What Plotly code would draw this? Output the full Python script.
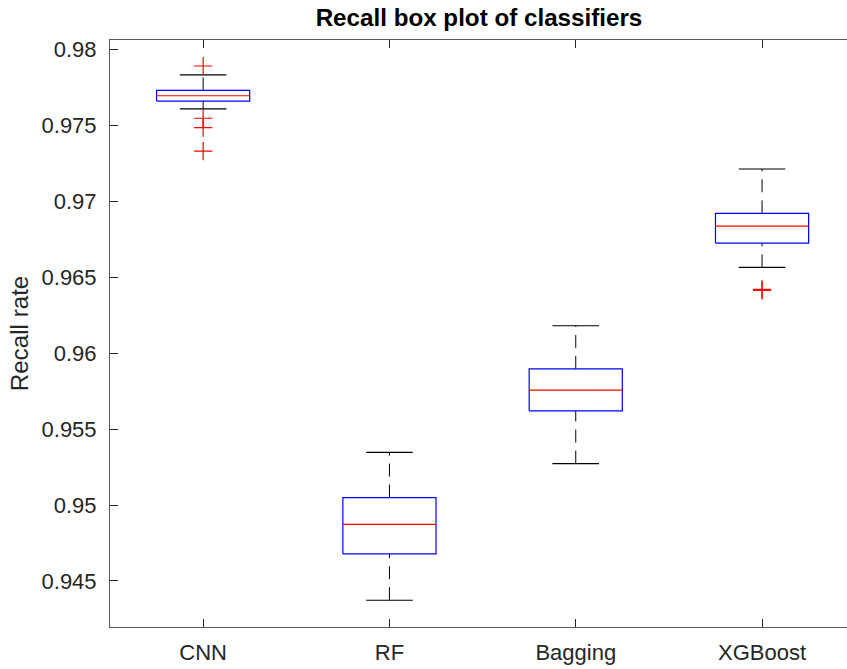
import plotly.graph_objects as go

# ---- data ----
categories = ["CNN", "RF", "Bagging", "XGBoost"]
q1 = [0.97659, 0.94678, 0.95620, 0.96724]
median = [0.97694, 0.94872, 0.95756, 0.96836]
q3 = [0.97730, 0.95049, 0.95896, 0.96920]
lower_whisker = [0.97607, 0.94373, 0.95273, 0.96564]
upper_whisker = [0.97831, 0.95346, 0.96180, 0.97212]
outliers = [
    [0.97890, 0.97546, 0.97484, 0.97330],
    [],
    [],
    [0.96419, 0.96412],
]
y_ticks = [0.945, 0.95, 0.955, 0.96, 0.965, 0.97, 0.975, 0.98]
y_tick_labels = ["0.945", "0.95", "0.955", "0.96", "0.965", "0.97", "0.975", "0.98"]

BOX_HALF = 0.25
CAP_HALF = 0.125
FONT = "Liberation Sans, Arial, Helvetica, sans-serif"
AXCOL = "#262626"
LINECOL = "#5a5a5a"

positions = list(range(1, len(categories) + 1))

bx, by, mx, my, wx, wy, cx, cy, ox, oy = [], [], [], [], [], [], [], [], [], []
for p, a, m, b, lo, hi, outs in zip(positions, q1, median, q3, lower_whisker, upper_whisker, outliers):
    bx += [p - BOX_HALF, p + BOX_HALF, p + BOX_HALF, p - BOX_HALF, p - BOX_HALF, None]
    by += [a, a, b, b, a, None]
    mx += [p - BOX_HALF, p + BOX_HALF, None]
    my += [m, m, None]
    wx += [p, p, None, p, p, None]
    wy += [b, hi, None, lo, a, None]
    cx += [p - CAP_HALF, p + CAP_HALF, None, p - CAP_HALF, p + CAP_HALF, None]
    cy += [hi, hi, None, lo, lo, None]
    for o in outs:
        ox.append(p)
        oy.append(o)

fig = go.Figure()
fig.add_trace(go.Scatter(x=wx, y=wy, mode="lines",
                         line=dict(color="black", width=1, dash="13px,8px"),
                         hoverinfo="skip", showlegend=False))
fig.add_trace(go.Scatter(x=cx, y=cy, mode="lines",
                         line=dict(color="black", width=1.2),
                         hoverinfo="skip", showlegend=False))
fig.add_trace(go.Scatter(x=bx, y=by, mode="lines",
                         line=dict(color="#0000ff", width=1.2),
                         hoverinfo="skip", showlegend=False))
fig.add_trace(go.Scatter(x=mx, y=my, mode="lines",
                         line=dict(color="#ff0000", width=1.2),
                         hoverinfo="skip", showlegend=False))
fig.add_trace(go.Scatter(x=ox, y=oy, mode="markers",
                         marker=dict(symbol="cross-thin", size=13,
                                     line=dict(color="#ff0000", width=1.2)),
                         hoverinfo="skip", showlegend=False))

fig.update_layout(
    width=847, height=669, autosize=False,
    margin=dict(l=110, r=0, t=40, b=42, autoexpand=False),
    paper_bgcolor="white", plot_bgcolor="white",
    font=dict(family=FONT, color=AXCOL, size=22),
    title=dict(text="<b>Recall box plot of classifiers</b>", x=0.5655, xanchor="center",
               xref="container", yref="container",
               y=0.986, yanchor="top", font=dict(size=24.2, color="black", family=FONT)),
    xaxis=dict(range=[0.5, 4.456], tickvals=positions, ticktext=categories,
               showgrid=False, zeroline=False, showline=True, linecolor=LINECOL,
               linewidth=1, mirror="ticks", ticks="inside", ticklen=8,
               tickcolor=AXCOL, tickfont=dict(size=22, color=AXCOL),
               ticklabelstandoff=6, automargin=False),
    yaxis=dict(range=[0.94197, 0.98061], tickvals=y_ticks, ticktext=y_tick_labels,
               showgrid=False, zeroline=False, showline=True, linecolor=LINECOL,
               linewidth=1, mirror=False, ticks="inside", ticklen=8,
               tickcolor=AXCOL, tickfont=dict(size=22, color=AXCOL),
               ticklabelstandoff=8, automargin=False,
               title=dict(text="Recall rate", font=dict(size=24.2, color=AXCOL), standoff=6)),
)

fig.write_html(
    "out.html",
    config={"responsive": False, "displayModeBar": False},
    post_script="document.body.style.margin='0';document.body.style.overflow='hidden';",
)
